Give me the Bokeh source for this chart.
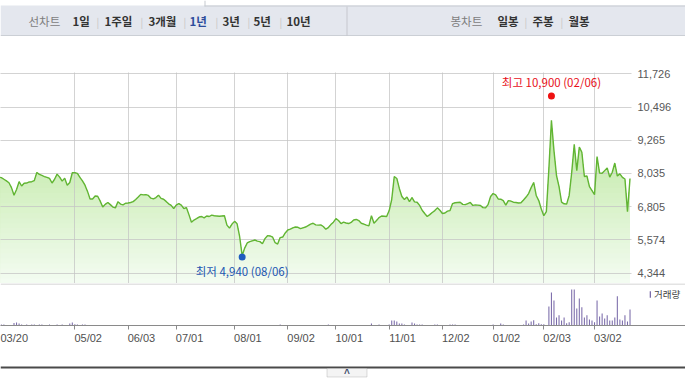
import numpy as np
from bokeh.plotting import figure
from bokeh.models import (Range1d, FixedTicker, LinearAxis, Grid, Span, Label,
                          BoxAnnotation, Legend, LegendItem, NumeralTickFormatter)
from bokeh.layouts import column
from bokeh.embed import file_html
from bokeh.resources import INLINE

# ---------------- data (daily closes, 2019-03-20 .. 2020-03-20, trading days) ----------------
close = [
    7900, 7880, 7820, 7760, 7690, 7510, 7230, 7440, 7730, 7570,
    7670, 7680, 7720, 7730, 7770, 8070, 8000, 7960, 7920, 7890,
    7850, 7680, 7820, 8010, 7900, 7750, 7860, 7600, 7700, 8060,
    8060, 8040, 7890, 7760, 7600, 7370, 7090, 7090, 7200, 7190,
    7010, 6790, 6890, 6960, 6880, 6790, 6760, 6990, 6900, 6870,
    6930, 6940, 6960, 6990, 7070, 7160, 7260, 7240, 7250, 7220,
    7120, 7090, 7140, 7230, 7110, 7080, 7000, 6910, 6850, 6730,
    6860, 6920, 6860, 6730, 6770, 6510, 6230, 6310, 6360, 6420,
    6440, 6390, 6460, 6440, 6490, 6470, 6460, 6450, 6460, 6470,
    6120, 6010, 6160, 6260, 6170, 5700, 4990, 5270, 5460, 5510,
    5540, 5570, 5530, 5510, 5430, 5620, 5730, 5720, 5680, 5470,
    5420, 5660, 5680, 5830, 5940, 5970, 6020, 6050, 6040, 5990,
    6020, 6050, 6100, 6160, 6190, 6130, 6120, 6130, 6070, 5970,
    6030, 6140, 6230, 6360, 6290, 6180, 6230, 6200, 6180, 6220,
    6310, 6330, 6290, 6190, 6160, 6120, 6090, 6470, 6190, 6290,
    6400, 6460, 6450, 6440, 6660, 7070, 7920, 7850, 7480, 7180,
    7070, 7160, 6990, 7140, 6980, 6970, 6850, 6670, 6550, 6440,
    6510, 6590, 6660, 6760, 6670, 6550, 6570, 6640, 6660, 6920,
    6950, 6960, 6970, 6890, 6880, 6920, 6960, 6850, 6870, 6860,
    6850, 6770, 6760, 6880, 7180, 7290, 7240, 7090, 7080, 7030,
    6860, 7030, 7010, 6970, 6960, 6940, 6950, 7050, 7160, 7290,
    7510, 7700, 7220, 7030, 6720, 6470, 6620, 8220, 10000, 8880,
    7960, 7550, 6970, 6910, 6900, 7220, 8070, 9110, 8140, 9010,
    8820, 7920, 7940, 7550, 7400, 7250, 8660, 8050, 8040, 8140,
    8240, 7900, 8080, 8420, 7940, 8020, 7890, 7830, 6620, 7850,
]

volume_k = [  # thousand shares
    30, 100, 90, 40, 30, 50, 250, 300, 200, 100,
    40, 100, 30, 100, 90, 40, 100, 100, 30, 40,
    100, 30, 40, 100, 30, 100, 40, 30, 200, 300,
    120, 100, 40, 100, 100, 30, 20, 30, 20, 30,
    20, 30, 20, 20, 30, 20, 30, 20, 20, 30,
    20, 30, 20, 20, 30, 20, 20, 30, 20, 20,
    30, 20, 20, 30, 20, 20, 20, 30, 20, 20,
    20, 30, 20, 20, 30, 20, 40, 30, 20, 20,
    30, 20, 20, 30, 20, 20, 30, 20, 20, 30,
    30, 20, 20, 30, 40, 50, 60, 40, 30, 30,
    20, 30, 20, 20, 30, 20, 30, 20, 20, 30,
    20, 100, 30, 20, 30, 20, 20, 30, 20, 20,
    30, 20, 20, 30, 20, 20, 30, 20, 20, 30,
    100, 20, 30, 20, 30, 20, 20, 30, 20, 30,
    20, 30, 20, 20, 30, 20, 30, 200, 40, 60,
    100, 40, 50, 40, 100, 500, 500, 400, 200, 200,
    100, 50, 40, 300, 200, 100, 100, 100, 40, 30,
    40, 30, 100, 100, 30, 40, 30, 40, 100, 100,
    100, 30, 40, 30, 40, 30, 40, 30, 40, 30,
    40, 30, 40, 30, 50, 100, 30, 40, 200, 100,
    40, 30, 50, 40, 30, 40, 60, 100, 500, 200,
    400, 530, 130, 230, 130, 130, 60, 1900, 3300, 2500,
    800, 1030, 500, 800, 230, 330, 3600, 3600, 1700, 2700,
    1830, 800, 1030, 600, 500, 330, 2500, 900, 1200, 700,
    1030, 500, 500, 800, 2930, 600, 500, 1030, 400, 1600,
]

tick_idx = [0, 30, 51, 70, 93, 114, 133, 154, 175, 195, 215, 235]
tick_labels = ["03/20", "05/02", "06/03", "07/01", "08/01", "09/02",
               "10/01", "11/01", "12/02", "01/02", "02/03", "03/02"]
y_ticks = [4344, 5574, 6805, 8035, 9265, 10496, 11726]

high_idx, high_price, high_date = 218, 10900, "02/06"
low_idx, low_price, low_date = 96, 4940, "08/06"

nav_line = ["1일", "1주일", "3개월", "1년", "3년", "5년", "10년"]
nav_candle = ["일봉", "주봉", "월봉"]
volume_name = "거래량"

# ---------------- layout / style ----------------
W = 685
PX_PER_DAY = 2.535
X_START = 1.7 / PX_PER_DAY
X_END_MAIN = X_START + 631 / PX_PER_DAY
X_END_VOL = X_START + 685 / PX_PER_DAY
Y_TOP = 11774
Y_BOT = Y_TOP - 211 * 37.04
VOL_TOP = 4200
LABEL_SHIFT = 5.25   # half a date label, in trading days (labels start at their tick)

TB_BG = "#e4e7ee"
LINE = "#62b534"
GRID = "#c4c4c4"
VOL = "#7b6caa"
FILL_TOP = (171, 225, 133)
FILL_BOT = (244, 252, 242)
KR = "Noto Sans CJK KR"
NUM = "Liberation Sans"


def mix(a, b, t):
    return "#%02x%02x%02x" % tuple(int(round(a[i] + (b[i] - a[i]) * t)) for i in range(3))


def base_fig(height, xr, yr, **kw):
    f = figure(width=W, height=height, x_range=xr, y_range=yr, output_backend="svg",
               toolbar_location=None, x_axis_location=None, y_axis_location=None,
               outline_line_color=None, frame_align=False, **kw)
    f.center = []
    return f


# ---------------- toolbar strip (page y 0..36) ----------------
tb = base_fig(36, Range1d(0, W), Range1d(0, 36), min_border=0,
              background_fill_color="white", border_fill_color="white")
def tby(py):
    return 36 - py
TY = tby(20.5)
tb.add_layout(BoxAnnotation(left=0, right=W, top=tby(5), bottom=0, fill_color=TB_BG,
                            fill_alpha=1, line_color=None))
tb.add_layout(BoxAnnotation(left=204, right=W, top=tby(5), bottom=tby(6), fill_color="#c6c9cf",
                            fill_alpha=1, line_color=None))
tb.add_layout(BoxAnnotation(left=204, right=205, top=36, bottom=tby(6), fill_color="#c6c9cf",
                            fill_alpha=1, line_color=None))

def tb_text(x, text, color="#333333", bold=True, size="11.5px"):
    tb.add_layout(Label(x=x, y=TY, text=text, text_align="left", text_baseline="middle",
                        text_font=KR, text_font_size=size,
                        text_font_style="bold" if bold else "normal", text_color=color))

nav_line_x = [72, 104, 148, 189, 222, 253, 286]
nav_line_sep = [96, 140, 183, 215, 247, 279]
nav_candle_x = [497, 532, 568]
nav_candle_sep = [524, 560]
tb_text(28, "선차트", color="#7d7d7d", bold=False)
for t, xx in zip(nav_line, nav_line_x):
    tb_text(xx, t, color="#2c4c9c" if t == "1년" else "#333333")
for xx in nav_line_sep + nav_candle_sep:
    tb_text(xx, "|", color="#c4c4c4", bold=False, size="10px")
tb_text(450, "봉차트", color="#7d7d7d", bold=False)
for t, xx in zip(nav_candle, nav_candle_x):
    tb_text(xx, t)
tb.add_layout(Span(location=tby(35.5), dimension="width", line_color="#b3b6bc", line_width=1))
tb.add_layout(BoxAnnotation(left=346, right=347, top=tby(6), bottom=0, fill_color="#c5c8ce",
                            fill_alpha=1, line_color=None))

# ---------------- main price chart (page y 36..283) ----------------
p = base_fig(247, Range1d(X_START, X_END_MAIN), Range1d(Y_BOT, Y_TOP),
             min_border_top=36, min_border_bottom=0, min_border_left=0, min_border_right=W - 631,
             background_fill_color="white", border_fill_color="white")

x = list(range(len(close)))
arr = np.array(close, dtype=float)
N_BANDS = 42
edges = np.linspace(Y_TOP, Y_BOT, N_BANDS + 1)
for k in range(N_BANDS):
    col = mix(FILL_TOP, FILL_BOT, (k + 0.5) / N_BANDS)
    p.varea(x=x, y1=Y_BOT, y2=np.minimum(arr, edges[k]), fill_color=col, fill_alpha=1)

p.add_layout(Grid(dimension=0, ticker=FixedTicker(ticks=tick_idx), grid_line_color=GRID,
                  grid_line_alpha=0.75, level="guide"))
p.add_layout(Grid(dimension=1, ticker=FixedTicker(ticks=y_ticks), grid_line_color=GRID,
                  grid_line_alpha=0.75, level="guide"))

p.line(x, close, line_color=LINE, line_width=1.4, level="annotation")

p.scatter([high_idx], [high_price], size=7, fill_color="#ee1111", line_color=None, level="overlay")
p.scatter([low_idx], [low_price], size=7, fill_color="#1f5cbf", line_color=None, level="overlay")
p.add_layout(Label(x=high_idx, y=high_price, y_offset=14,
                   text=f"최고 {high_price:,} ({high_date})", text_align="center",
                   text_baseline="middle", text_font=KR, text_font_size="11.5px",
                   text_color="#e8101a"))
p.add_layout(Label(x=low_idx, y=low_price, y_offset=-14,
                   text=f"최저 {low_price:,} ({low_date})", text_align="center",
                   text_baseline="middle", text_font=KR, text_font_size="11.5px",
                   text_color="#1d57b2"))

yax = LinearAxis(ticker=FixedTicker(ticks=y_ticks), formatter=NumeralTickFormatter(format="0,0"),
                 axis_line_color=None, major_tick_line_color=None, minor_tick_line_color=None,
                 major_tick_out=0, minor_tick_out=0, major_tick_in=0, minor_tick_in=0,
                 major_label_standoff=6, major_label_text_font=NUM,
                 major_label_text_font_size="11px", major_label_text_color="#585858")
p.add_layout(yax, "right")

# ---------------- volume panel (page y 283..365) ----------------
pv = figure(width=W, height=82, x_range=Range1d(X_START, X_END_VOL), y_range=Range1d(0, VOL_TOP),
            output_backend="svg", toolbar_location=None, x_axis_location="below",
            y_axis_location=None, outline_line_color=None, frame_align=False,
            min_border_top=0, min_border_bottom=40, min_border_left=0, min_border_right=0)
pv.center = []
vb = pv.vbar(x=x, top=volume_k, width=0.42, fill_color=VOL, line_color=None)

# axis 1: baseline + month tick marks
xa = pv.xaxis[0]
xa.ticker = FixedTicker(ticks=tick_idx)
xa.axis_line_color = "#8a8a8a"
xa.major_tick_line_color = "#8a8a8a"
xa.major_tick_in = 0
xa.major_tick_out = 4
xa.minor_tick_line_color = None
xa.minor_tick_out = 0
xa.major_label_text_color = None
xa.major_label_text_font_size = "0px"
xa.major_label_standoff = 0

# axis 2: the date labels, each starting at its tick
lab_ticks = [i + LABEL_SHIFT for i in tick_idx]
lab_ticks[0] += 0.8
xa2 = LinearAxis(ticker=FixedTicker(ticks=lab_ticks),
                 major_label_overrides={t: s for t, s in zip(lab_ticks, tick_labels)},
                 axis_line_color=None, major_tick_line_color=None, minor_tick_line_color=None,
                 major_tick_in=0, major_tick_out=0, minor_tick_in=0, minor_tick_out=0,
                 major_label_standoff=2, major_label_text_font=NUM,
                 major_label_text_font_size="11px", major_label_text_color="#505050")
pv.add_layout(xa2, "below")

pv.add_layout(Span(location=VOL_TOP - 0.5 * VOL_TOP / 42, dimension="width",
                   line_color="#c8c8c8", line_width=1))

leg = Legend(items=[LegendItem(label=volume_name, renderers=[vb])], location=(649, 24),
             glyph_width=2, glyph_height=8, label_standoff=3, padding=0, margin=0, spacing=0,
             border_line_color=None, background_fill_alpha=0, label_text_font=KR,
             label_text_font_size="9.5px", label_text_color="#444444", label_height=10,
             label_width=10)
pv.add_layout(leg)

# ---------------- footer: divider + collapse button (page y 365..386) ----------------
ft = base_fig(21, Range1d(0, W), Range1d(0, 21), min_border=0,
              background_fill_color="white", border_fill_color="white")
def fty(py):
    return 386 - py
ft.add_layout(BoxAnnotation(left=0, right=W, top=fty(366), bottom=fty(368),
                            fill_color="#4a4a4a", fill_alpha=1, line_color=None))
ft.add_layout(BoxAnnotation(left=326.5, right=366.5, top=fty(368), bottom=fty(376.5),
                            fill_color="#f4f4f4", fill_alpha=1, line_color="#8e8e8e",
                            line_width=1))
ft.add_layout(Label(x=346.5, y=fty(372.5), text="^", text_align="center", text_baseline="middle",
                    text_font=NUM, text_font_size="10px", text_font_style="bold",
                    text_color="#3d4b6b"))

layout = column(tb, p, pv, ft, spacing=0)
open("out.html", "w").write(file_html(layout, INLINE))
